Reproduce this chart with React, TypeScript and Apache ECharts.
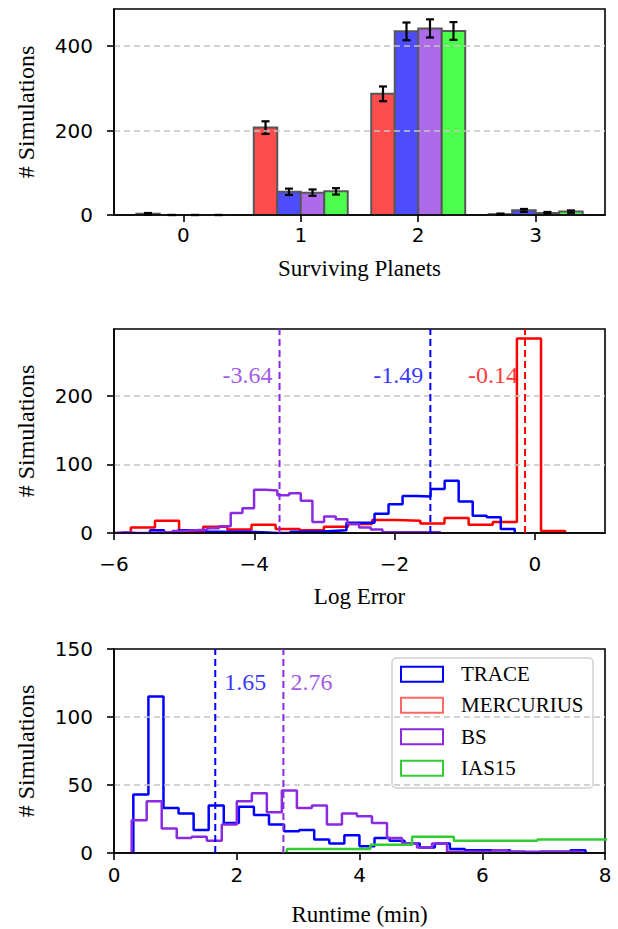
import React, { useEffect, useRef } from "react";
import * as echarts from "echarts";

// ---------- Panel 1: surviving planets (grouped bars with error bars) ----------
const planetCategories = [0, 1, 2, 3];
const barMethods = ["MERCURIUS", "TRACE", "BS", "IAS15"];
const survivingMercurius = [3, 207, 287, 2];
const survivingTrace = [0, 55, 435, 11];
const survivingBS = [0, 53, 442, 5];
const survivingIAS15 = [0, 56, 436, 8];
const errMercurius = [1.7, 15, 17.5, 1.4];
const errTrace = [0, 7.5, 21, 3.3];
const errBS = [0, 7.5, 21.5, 2.2];
const errIAS15 = [0, 7.5, 21, 2.8];

// ---------- Panel 2: log error histograms ----------
const logErrMercuriusStart = -5.76;
const logErrMercuriusWidth = 0.344;
const logErrMercurius = [8, 18, 2, 9, 5, 12, 6, 4, 9, 13, 19, 18, 14, 22, 12, 16, 283, 3];
const logErrTraceStart = -5.486;
const logErrTraceWidth = 0.2;
const logErrTrace = [4, 1, 4, 4, 2, 2, 2, 1, 0, 0, 2, 2, 3, 4, 15, 15, 28, 42, 54, 53, 64, 76, 46, 25, 23, 6];
const logErrBSStart = -6.0;
const logErrBSWidth = 0.1664;
const logErrBS = [1, 0, 0, 1, 1, 3, 4, 5, 7, 10, 29, 36, 63, 62, 55, 58, 47, 16, 24, 20, 13, 8, 5, 1, 1, 1, 1, 1];
const logErrMedians = [-3.64, -1.49, -0.14];
const logErrMedianLabels = ["-3.64", "-1.49", "-0.14"];

// ---------- Panel 3: runtime histograms ----------
const runtimeTraceStart = 0.315;
const runtimeTraceWidth = 0.2456;
const runtimeTrace = [43, 115, 33, 29, 17, 35, 22, 34, 28, 21, 16, 17, 10, 7, 13, 5, 11, 9, 7, 4, 7, 3, 2, 2, 2, 1, 0, 1, 1, 2];
const runtimeBSStart = 0.288;
const runtimeBSWidth = 0.2447;
const runtimeBS = [24, 38, 18, 11, 12, 9, 21, 38, 44, 30, 46, 33, 35, 21, 29, 27, 22, 11, 7, 4, 7, 1, 1, 1, 2, 1, 1, 1, 1, 1];
const runtimeIAS15Start = 2.817;
const runtimeIAS15Width = 0.68;
const runtimeIAS15 = [3, 3, 6, 12, 9, 9, 10, 10];
const runtimeMedians = [1.65, 2.76];
const runtimeMedianLabels = ["1.65", "2.76"];

// ---------- tick values ----------
const planetTicks = [0, 1, 2, 3];
const planetYTicks = [0, 200, 400];
const logErrXTicks = [-6, -4, -2, 0];
const logErrYTicks = [0, 100, 200];
const runtimeXTicks = [0, 2, 4, 6, 8];
const runtimeYTicks = [0, 50, 100, 150];

const legendNames = ["TRACE", "MERCURIUS", "BS", "IAS15"];

// ---------- styles ----------
const RED = "#ff0000";
const BLUE = "#0000ff";
const PURPLE = "#8a2be2";
const GREEN = "#32cd32";
const barFills = ["#ff4d4d", "#4d4dff", "#ad6bea", "#4dff4d"];
const barOffsets = [-0.3, -0.1, 0.1, 0.3];
const BAR_W = 0.2;
const legendColors = [BLUE, "#ff6666", PURPLE, GREEN];

const SERIF = "Liberation Serif";
const SANS = "DejaVu Sans";

function stepOutline(start: number, width: number, counts: number[]) {
  const pts: number[][] = [[start, 0]];
  counts.forEach((c, i) => {
    const x0 = start + i * width;
    pts.push([x0, c], [x0 + width, c]);
  });
  pts.push([start + counts.length * width, 0]);
  return pts;
}

const fmtMinus = (v: number) => (v < 0 ? "\u2212" + Math.abs(v) : String(v));

function makeXAxis(gridIndex: number, min: number, max: number, ticks: number[], name: string, labelMargin: number, nameGap: number) {
  return {
    type: "value",
    gridIndex,
    min,
    max,
    z: 3,
    name,
    nameLocation: "middle",
    nameGap,
    nameTextStyle: { fontFamily: SERIF, fontSize: 23, color: "#000" },
    axisLine: { show: true, onZero: false, lineStyle: { color: "#000", width: 1.6 } },
    axisTick: { show: true, inside: false, length: 7, customValues: ticks, lineStyle: { color: "#000", width: 1.6 } },
    axisLabel: { show: true, customValues: ticks, margin: labelMargin, formatter: fmtMinus, fontFamily: SANS, fontSize: 20, color: "#000" },
    splitLine: { show: false },
  };
}

function makeYAxis(gridIndex: number, max: number, ticks: number[], showMaxLine: boolean) {
  return {
    type: "value",
    gridIndex,
    min: 0,
    max,
    z: 3,
    name: "# Simulations",
    nameLocation: "middle",
    nameGap: 76,
    nameRotate: 90,
    nameTextStyle: { fontFamily: SERIF, fontSize: 24, color: "#000" },
    axisLine: { show: true, onZero: false, lineStyle: { color: "#000", width: 1.6 } },
    axisTick: { show: true, inside: false, length: 7, customValues: ticks, lineStyle: { color: "#000", width: 1.6 } },
    axisLabel: { show: true, customValues: ticks, margin: 21, formatter: fmtMinus, fontFamily: SANS, fontSize: 20, color: "#000" },
    splitLine: { show: true, showMinLine: false, showMaxLine, lineStyle: { color: "#c4c4c4", width: 1.5, type: [6, 4] } },
  };
}

function stepSeries(name: string, color: string, axis: number, pts: number[][]) {
  return {
    type: "line",
    name,
    xAxisIndex: axis,
    yAxisIndex: axis,
    data: pts,
    showSymbol: false,
    symbol: "none",
    silent: true,
    clip: true,
    lineStyle: { color, width: 2.5 },
    z: 2,
  };
}

function vline(color: string, axis: number, x: number, top: number) {
  return {
    type: "line",
    xAxisIndex: axis,
    yAxisIndex: axis,
    data: [[x, 0], [x, top]],
    showSymbol: false,
    symbol: "none",
    silent: true,
    lineStyle: { color, width: 2, type: [7, 4] },
    z: 4,
  };
}

function medianText(color: string, axis: number, x: number, y: number, text: string, position: string, distance: number) {
  return {
    type: "scatter",
    xAxisIndex: axis,
    yAxisIndex: axis,
    data: [[x, y]],
    symbolSize: 0,
    silent: true,
    z: 5,
    label: {
      show: true,
      position,
      distance,
      formatter: () => text,
      fontFamily: SERIF,
      fontSize: 24,
      color,
    },
  };
}

function buildOption() {
  const survival = [survivingMercurius, survivingTrace, survivingBS, survivingIAS15];
  const errs = [errMercurius, errTrace, errBS, errIAS15];

  const barSeries = barMethods.map((m, s) => ({
    type: "custom",
    name: m,
    xAxisIndex: 0,
    yAxisIndex: 0,
    coordinateSystem: "cartesian2d",
    silent: true,
    encode: { x: 0, y: 1 },
    data: planetCategories.map((c, i) => [c + barOffsets[s], survival[s][i]]),
    renderItem: (_p: any, api: any) => {
      const x = api.value(0);
      const y = api.value(1);
      const tl = api.coord([x - BAR_W / 2, y]);
      const br = api.coord([x + BAR_W / 2, 0]);
      return {
        type: "rect",
        shape: { x: tl[0], y: tl[1], width: br[0] - tl[0], height: br[1] - tl[1] },
        style: { fill: barFills[s], stroke: "#575757", lineWidth: 2 },
      };
    },
    z: 2,
  }));

  const errSeries = barMethods.map((m, s) => ({
    type: "custom",
    name: m + " err",
    xAxisIndex: 0,
    yAxisIndex: 0,
    coordinateSystem: "cartesian2d",
    silent: true,
    encode: { x: 0, y: 1 },
    data: planetCategories.map((c, i) => [c + barOffsets[s], survival[s][i], errs[s][i]]),
    renderItem: (_p: any, api: any) => {
      const x = api.value(0);
      const y = api.value(1);
      const e = api.value(2);
      const t = api.coord([x, y + e]);
      const b = api.coord([x, y - e]);
      const st = { stroke: "#000", lineWidth: 2.2 };
      return {
        type: "group",
        children: [
          { type: "line", shape: { x1: t[0], y1: t[1], x2: b[0], y2: b[1] }, style: st },
          { type: "line", shape: { x1: t[0] - 4, y1: t[1], x2: t[0] + 4, y2: t[1] }, style: st },
          { type: "line", shape: { x1: b[0] - 4, y1: b[1], x2: b[0] + 4, y2: b[1] }, style: st },
        ],
      };
    },
    z: 2,
  }));

  const logColors = [PURPLE, BLUE, RED];
  const runColors = [BLUE, PURPLE];

  const legendChildren: any[] = [
    {
      type: "rect",
      shape: { x: 392, y: 658, width: 201, height: 130, r: 4 },
      style: { fill: "rgba(255,255,255,0.8)", stroke: "#d0d0d0", lineWidth: 1.5 },
    },
  ];
  const rowY = [674.3, 705.3, 736.7, 768.3];
  legendNames.forEach((n, i) => {
    legendChildren.push({
      type: "rect",
      shape: { x: 401, y: rowY[i] - 7.5, width: 42, height: 15 },
      style: { fill: "transparent", stroke: legendColors[i], lineWidth: 2 },
    });
    legendChildren.push({
      type: "text",
      x: 461,
      y: rowY[i],
      style: { text: n, fontFamily: SERIF, fontSize: 21, fill: "#000", textVerticalAlign: "middle", verticalAlign: "middle" },
    });
  });

  return {
    animation: false,
    backgroundColor: "#fff",
    grid: [
      { left: 114, top: 9, width: 491, height: 206, show: true, borderColor: "#000", borderWidth: 1.6, backgroundColor: "transparent" },
      { left: 114, top: 329, width: 491, height: 204, show: true, borderColor: "#000", borderWidth: 1.6, backgroundColor: "transparent" },
      { left: 114, top: 649, width: 491, height: 204, show: true, borderColor: "#000", borderWidth: 1.6, backgroundColor: "transparent" },
    ],
    xAxis: [
      makeXAxis(0, -0.59, 3.59, planetTicks, "Surviving Planets", 9.5, 42),
      makeXAxis(1, -6, 1, logErrXTicks, "Log Error", 20.5, 52),
      makeXAxis(2, 0, 8, runtimeXTicks, "Runtime (min)", 11.5, 50),
    ],
    yAxis: [makeYAxis(0, 488, planetYTicks, true), makeYAxis(1, 297, logErrYTicks, true), makeYAxis(2, 150, runtimeYTicks, false)],
    series: [
      ...barSeries,
      ...errSeries,
      stepSeries("MERCURIUS", RED, 1, stepOutline(logErrMercuriusStart, logErrMercuriusWidth, logErrMercurius)),
      stepSeries("TRACE", BLUE, 1, stepOutline(logErrTraceStart, logErrTraceWidth, logErrTrace)),
      stepSeries("BS", PURPLE, 1, stepOutline(logErrBSStart, logErrBSWidth, logErrBS)),
      ...logErrMedians.map((v, i) => vline(logColors[i], 1, v, 297)),
      ...logErrMedians.map((v, i) => medianText(logColors[i], 1, v, 230, logErrMedianLabels[i], "left", 7)),
      stepSeries("TRACE", BLUE, 2, stepOutline(runtimeTraceStart, runtimeTraceWidth, runtimeTrace)),
      stepSeries("BS", PURPLE, 2, stepOutline(runtimeBSStart, runtimeBSWidth, runtimeBS)),
      stepSeries("IAS15", GREEN, 2, stepOutline(runtimeIAS15Start, runtimeIAS15Width, runtimeIAS15)),
      ...runtimeMedians.map((v, i) => vline(runColors[i], 2, v, 150)),
      ...runtimeMedians.map((v, i) => medianText(runColors[i], 2, v, 126, runtimeMedianLabels[i], "right", i === 0 ? 9 : 7)),
    ],
    graphic: [{ type: "group", z: 100, silent: true, children: legendChildren }],
  };
}

export default function App() {
  const ref = useRef<HTMLDivElement>(null);
  useEffect(() => {
    document.body.style.margin = "0";
    if (!ref.current) return;
    const chart = echarts.init(ref.current, undefined, { renderer: "svg" });
    chart.setOption(buildOption() as any);
    return () => chart.dispose();
  }, []);
  return <div ref={ref} style={{ position: "absolute", left: 0, top: 0, width: 618, height: 929 }} />;
}
